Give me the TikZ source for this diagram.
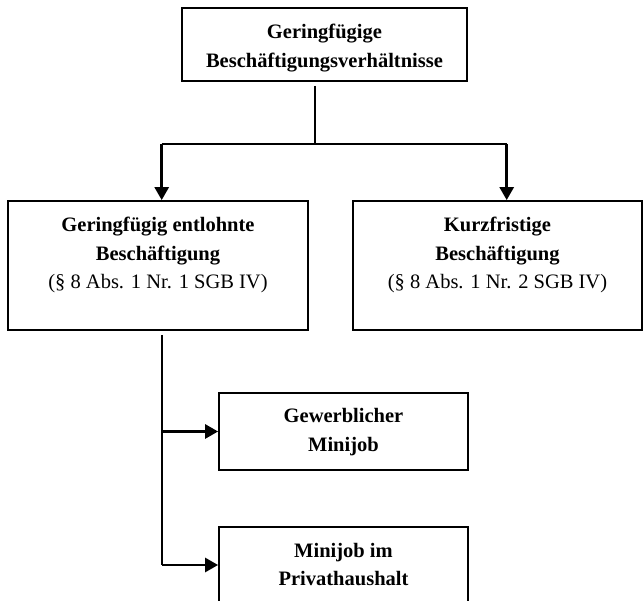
\documentclass[tikz,border=0pt]{standalone}
\usepackage{fontspec}
\setmainfont{Liberation Serif}
\usetikzlibrary{arrows.meta}
\begin{document}
\begin{tikzpicture}[x=1pt,y=-1pt,
  box/.style={draw=black,line width=1.8pt,inner sep=0pt},
  lbl/.style={align=center,font=\fontsize{20.5}{28.5}\selectfont,anchor=base,inner sep=0pt},
  thinline/.style={line width=1.7pt},
  arr/.style={line width=2.8pt,-{Triangle[width=14pt,length=13pt]}}]
\clip (0,0) rectangle (643,601);
% boxes
\node[box,minimum width=285pt,minimum height=73pt] (top) at (324.5,44.5) {};
\node[box,minimum width=300pt,minimum height=129pt] (left) at (158,265.5) {};
\node[box,minimum width=289pt,minimum height=129pt] (right) at (497.5,265.5) {};
\node[box,minimum width=249pt,minimum height=77pt] (gew) at (343.5,431.5) {};
\node[box,minimum width=249pt,minimum height=113pt] (priv) at (343.5,583.5) {};
% labels (anchored at the baseline of the last line)
\node[lbl] (ttop) at (324.5,67.5) {\textbf{Geringfügige}\\\textbf{Beschäftigungsverhältnisse}};
\node[lbl] (tleft) at (158,289) {\textbf{Geringfügig entlohnte}\\\textbf{Beschäftigung}\\(§ 8 Abs. 1 Nr. 1 SGB IV)};
\node[lbl] (tright) at (497.5,289) {\textbf{Kurzfristige}\\\textbf{Beschäftigung}\\(§ 8 Abs. 1 Nr. 2 SGB IV)};
\node[lbl] (tgew) at (343.5,451.5) {\textbf{Gewerblicher}\\\textbf{Minijob}};
\node[lbl] (tpriv) at (343.5,585.5) {\textbf{Minijob im}\\\textbf{Privathaushalt}};
% connectors
\coordinate (ts) at (315,86);
\coordinate (tj) at (315,144);
\coordinate (lj) at (161.7,144);
\coordinate (rj) at (506.7,144);
\draw[thinline] (ts) -- (tj);
\draw[thinline] (lj) -- (rj);
\draw[arr] (lj) -- (lj |- left.north);
\draw[arr] (rj) -- (rj |- right.north);
\coordinate (ls) at (161.7,335);
\coordinate (le) at (161.7,565);
\draw[thinline] (ls) -- (le);
\draw[arr] (ls |- gew.west) -- (gew.west);
\draw[arr] (le) -- (le -| priv.west);
\end{tikzpicture}
\end{document}
